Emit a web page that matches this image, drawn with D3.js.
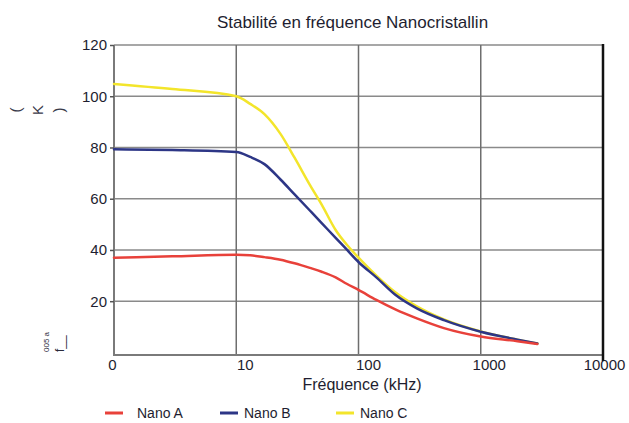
<!DOCTYPE html>
<html>
<head>
<meta charset="utf-8">
<script src="https://cdn.jsdelivr.net/npm/d3@7"></script>
<style>
  body { margin: 0; background: #fff; }
  svg { display: block; font-family: "Liberation Sans", Arial, sans-serif; }
</style>
</head>
<body>
<div id="chart"></div>
<script>
// data (frequency in kHz, value in K)
var freqs = [1, 3, 10, 13, 17, 23, 30, 40, 50, 65, 80, 100, 140, 200, 300, 500, 1000, 2000, 2900];
var nanoA = [37.0, 37.5, 38.1, 37.9, 37.2, 36.2, 34.8, 33.0, 31.5, 29.3, 26.8, 24.4, 20.5, 16.8, 13.3, 9.5, 6.2, 4.4, 3.3];
var nanoB = [79.3, 79.0, 78.2, 76.3, 73.5, 67.5, 61.7, 55.4, 50.5, 44.7, 40.2, 35.3, 29.3, 22.5, 17.2, 12.6, 8.1, 5.0, 3.5];
var nanoC = [104.8, 102.8, 100.0, 97.0, 93.0, 85.3, 76.0, 65.4, 57.7, 47.8, 42.1, 37.0, 30.0, 23.5, 18.0, 12.9, 8.2, 5.0, 3.5];

var seriesNames = ["Nano A", "Nano B", "Nano C"];
var seriesColors = ["#e8413a", "#2d3686", "#f3e52b"];

var xTickValues = [1, 10, 100, 1000, 10000];
var xTickLabels = ["0", "10", "100", "1000", "10000"];
var yTickValues = [20, 40, 60, 80, 100, 120];

var width = 629, height = 423;

var svg = d3.select("#chart").append("svg")
    .attr("width", width)
    .attr("height", height);

var x = d3.scaleLog().domain([1, 10000]).range([114, 603]);
// axis line sits a hair below zero in the original
var y = d3.scaleLinear().domain([-1, 120]).range([355, 45]);

// horizontal grid
svg.append("g")
    .selectAll("line")
    .data(yTickValues)
    .enter().append("line")
    .attr("x1", x(1)).attr("x2", x(10000))
    .attr("y1", function(d) { return y(d); })
    .attr("y2", function(d) { return y(d); })
    .attr("stroke", "#8a8a8a")
    .attr("stroke-width", 1.5);

// vertical grid
svg.append("g")
    .selectAll("line")
    .data([10, 100, 1000])
    .enter().append("line")
    .attr("x1", function(d) { return x(d); })
    .attr("x2", function(d) { return x(d); })
    .attr("y1", y(120)).attr("y2", y(-1))
    .attr("stroke", "#6e6e6e")
    .attr("stroke-width", 1.5);

// y axis
var yAxis = d3.axisLeft(y).tickValues(yTickValues).tickSize(4).tickPadding(3);
var gy = svg.append("g")
    .attr("transform", "translate(" + x(1) + ",0)")
    .call(yAxis);
gy.select(".domain").attr("stroke", "#7a7a7a").attr("stroke-width", 2)
    .attr("d", "M0," + y(120) + "V" + y(-1));
gy.selectAll(".tick line").attr("stroke", "#555").attr("stroke-width", 1.5);
gy.selectAll(".tick text")
    .attr("fill", "#1e1e30")
    .style("font-size", "15px")
    .style("font-family", "Liberation Sans, Arial, sans-serif");

// x axis
var labelShift = [-2, 8.5, 9.5, 8, 1];
var xAxis = d3.axisBottom(x).tickValues(xTickValues).tickSize(0).tickPadding(4)
    .tickFormat(function(d, i) { return xTickLabels[i]; });
var gx = svg.append("g")
    .attr("transform", "translate(0," + y(-1) + ")")
    .call(xAxis);
gx.select(".domain").attr("stroke", "#7a7a7a").attr("stroke-width", 2)
    .attr("d", "M" + (x(1) - 1) + ",0H" + x(10000));
gx.selectAll(".tick text")
    .attr("fill", "#1e1e30")
    .attr("dx", function(d, i) { return labelShift[i]; })
    .style("font-size", "15px")
    .style("font-family", "Liberation Sans, Arial, sans-serif");

// right border (black)
svg.append("line")
    .attr("x1", x(10000)).attr("x2", x(10000))
    .attr("y1", y(120) - 1).attr("y2", y(-1) + 6)
    .attr("stroke", "#111")
    .attr("stroke-width", 2.5);

// curves
var line = d3.line()
    .x(function(d) { return x(d[0]); })
    .y(function(d) { return y(d[1]); })
    .curve(d3.curveMonotoneX);

var allSeries = [nanoA, nanoB, nanoC];
var drawOrder = [2, 1, 0];
drawOrder.forEach(function(k) {
  var pts = freqs.map(function(f, i) { return [f, allSeries[k][i]]; });
  svg.append("path")
      .datum(pts)
      .attr("d", line)
      .attr("fill", "none")
      .attr("stroke", seriesColors[k])
      .attr("stroke-width", 2.5)
      .attr("stroke-linejoin", "round")
      .attr("stroke-linecap", "round");
});

// title
svg.append("text")
    .attr("x", 352.5)
    .attr("y", 28)
    .attr("text-anchor", "middle")
    .attr("fill", "#1e1e30")
    .style("font-size", "17px")
    .text("Stabilité en fréquence Nanocristallin");

// x axis title
svg.append("text")
    .attr("x", 362)
    .attr("y", 390)
    .attr("text-anchor", "middle")
    .attr("fill", "#1e1e30")
    .style("font-size", "16px")
    .text("Fréquence (kHz)");

// y axis title: stacked glyphs, turned on their side
var yTitle = svg.append("g").attr("transform", "translate(37,110) rotate(-90)");
["(", "K", ")"].forEach(function(ch, i) {
  yTitle.append("text")
      .attr("x", 0)
      .attr("y", [-22, 0, 21][i])
      .attr("text-anchor", "middle")
      .attr("dominant-baseline", "central")
      .attr("fill", "#3a3a4a")
      .style("font-size", "15px")
      .text(ch);
});

// stray little labels bottom left
svg.append("text")
    .attr("transform", "translate(49,352) rotate(-90)")
    .attr("fill", "#2a2a3a")
    .style("font-size", "8px")
    .text("005 a");
svg.append("text")
    .attr("transform", "translate(64,352) rotate(-90)")
    .attr("fill", "#2a2a3a")
    .style("font-size", "12px")
    .text("f__");

// legend
var legendLineX = [105, 220, 336];
var legend = svg.append("g").attr("transform", "translate(0,413)");
seriesNames.forEach(function(name, i) {
  legend.append("line")
      .attr("x1", legendLineX[i]).attr("x2", legendLineX[i] + 18)
      .attr("y1", 0).attr("y2", 0)
      .attr("stroke", seriesColors[i])
      .attr("stroke-width", 3);
  legend.append("text")
      .attr("x", legendLineX[i] + (i == 0 ? 32 : 24))
      .attr("y", 5)
      .attr("fill", "#1e1e30")
      .style("font-size", "14px")
      .text(name);
});
</script>
</body>
</html>
